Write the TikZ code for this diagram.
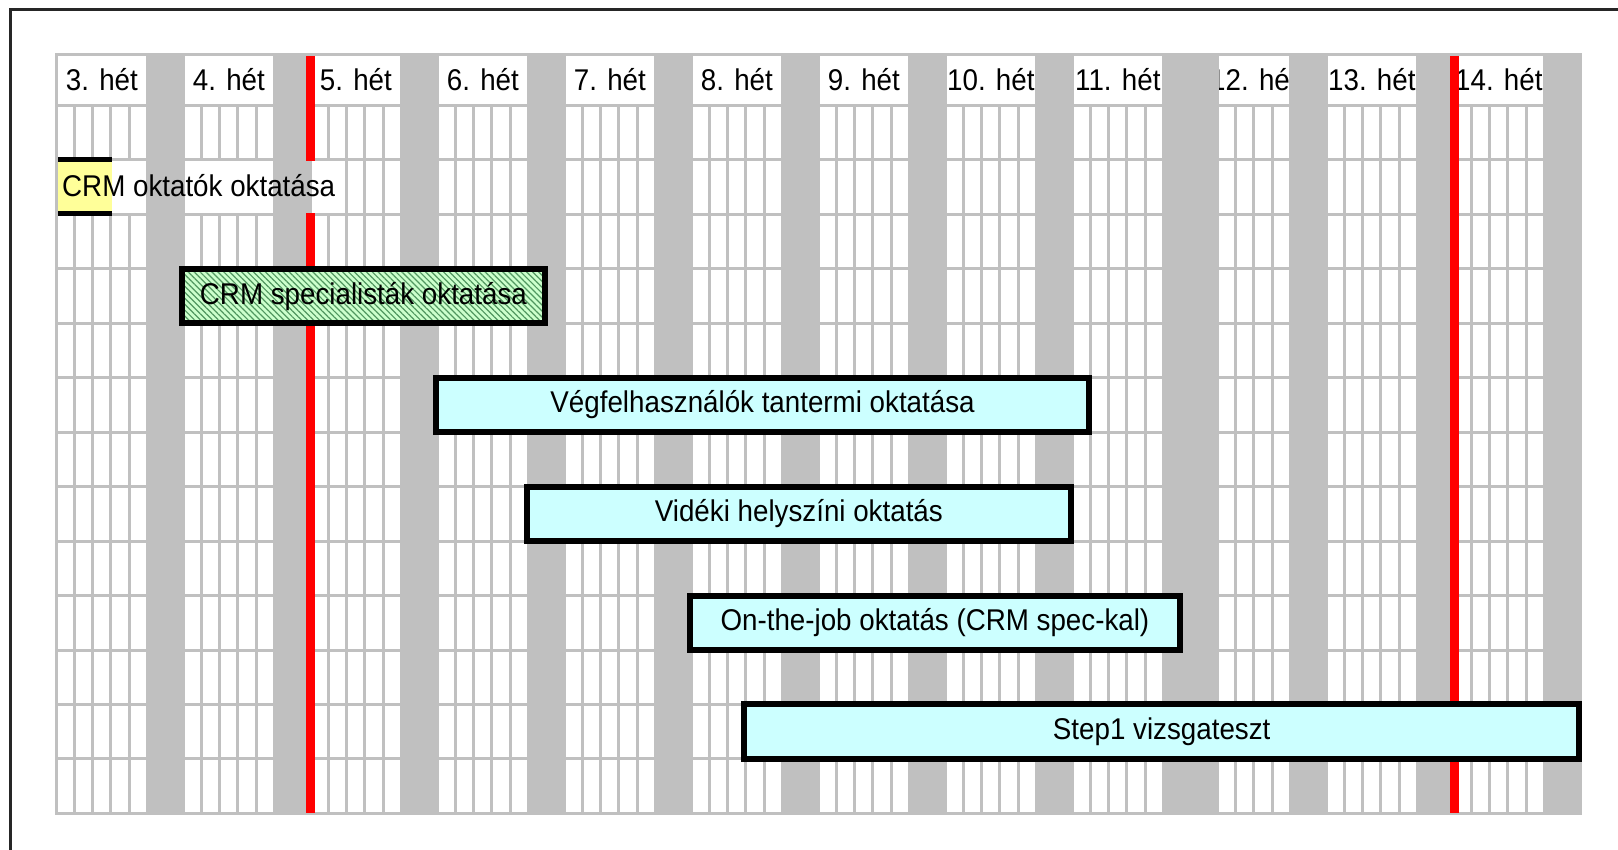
\documentclass[tikz,border=0pt]{standalone}
\usepackage{fontspec}
\setmainfont{Liberation Sans}[FakeStretch=0.925]
\usetikzlibrary{patterns.meta}
\definecolor{gridgray}{HTML}{C0C0C0}
\definecolor{barcyan}{HTML}{CCFFFF}
\definecolor{baryellow}{HTML}{FFFF99}
\definecolor{bargreen}{HTML}{CCFFCC}
\definecolor{hatchgreen}{RGB}{80,150,95}
\definecolor{nowred}{HTML}{FF0000}
\begin{document}
\begin{tikzpicture}[x=1pt,y=-1pt,
  lbl/.style={font=\fontsize{30}{32}\selectfont, inner sep=0pt, text=black},
  taskbar/.style={rectangle, draw=black, line width=6pt, fill=barcyan, inner sep=0pt,
    font=\fontsize{30}{32}\selectfont, text height=16pt, text depth=0pt, minimum height=54.45pt},
  greenbar/.style={taskbar, preaction={fill=bargreen},
    pattern={Lines[angle=-45,distance=4.2pt,line width=1.2pt]}, pattern color=hatchgreen},
  redline/.style={nowred, line width=9pt},
]
\useasboundingbox (0,0) rectangle (1618,850);
\fill[white] (0,0) rectangle (1618,850);
% outer frame (only left and top edges visible)
\draw[black!85, line width=2.4pt] (10.5,850) -- (10.5,9.5) -- (1618,9.5);
\def\dd{18.142857}
% grid background
\fill[gridgray] (55,53) rectangle (1582,814.9);
% day columns
\foreach \k in {0,...,11}{
  \pgfmathsetmacro\s{55+127*\k}
  \foreach \j in {0,...,4}{
    \pgfmathtruncatemacro\skipcell{(\k==9)&&(\j==0)}
    \ifnum\skipcell=0
      \fill[white] ({\s+\j*\dd+3},107) rectangle ({\s+(\j+1)*\dd},811.85);
    \fi
  }
}
% horizontal row lines
\foreach \i in {2,...,13}{
  \fill[gridgray] (55,{105.5+(\i-1)*54.45-1.5}) rectangle (1582,{105.5+(\i-1)*54.45+1.5});
}
% header cells and week labels
\foreach \k in {0,...,11}{
  \pgfmathsetmacro\s{55+127*\k}
  \pgfmathsetmacro\xa{\s+3+(\k==9)*\dd}
  \pgfmathsetmacro\xb{\s+5*\dd}
  \pgfmathtruncatemacro\w{\k+3}
  \fill[white] (\xa,56) rectangle (\xb,104);
  \begin{scope}
    \clip (\xa,56) rectangle (\xb,104);
    \node[lbl, anchor=base] (wk\w) at ({(\xa+\xb)/2},91) {\w. hét};
  \end{scope}
}
% red "today" lines
\draw[redline] (310.5,56) -- (310.5,161.5);
\draw[redline] (310.5,212.9) -- (310.5,813);
\draw[redline] (1454,56) -- (1454,813);
% label area of the first task row
\fill[white] (112,161.5) rectangle (145.7,212.9);
\fill[white] (185,161.5) rectangle (272.7,212.9);
\fill[white] (312,161.5) rectangle (340,212.9);
% first task (clipped at the chart start)
\fill[baryellow] (58,159.5) rectangle (112,213.5);
\draw[line width=5.5pt] (58,159.5) -- (112,159.5) (58,213.5) -- (112,213.5);
\node[lbl, anchor=base west] (t1) at (62,196.7) {CRM oktatók oktatása};
% task bars
\node[greenbar, minimum width=362.86pt] (t2) at (363.43,296.075) {CRM specialisták oktatása};
\node[taskbar, minimum width=653.14pt] (t3) at (762.57,404.975) {Végfelhasználók tantermi oktatása};
\node[taskbar, minimum width=544.29pt] (t4) at (798.86,513.875) {Vidéki helyszíni oktatás};
\node[taskbar, minimum width=489.86pt] (t5) at (934.93,622.775) {On-the-job oktatás (CRM spec-kal)};
\node[taskbar, minimum width=834.57pt] (t6) at (1161.71,731.675) {Step1 vizsgateszt};
\end{tikzpicture}
\end{document}
